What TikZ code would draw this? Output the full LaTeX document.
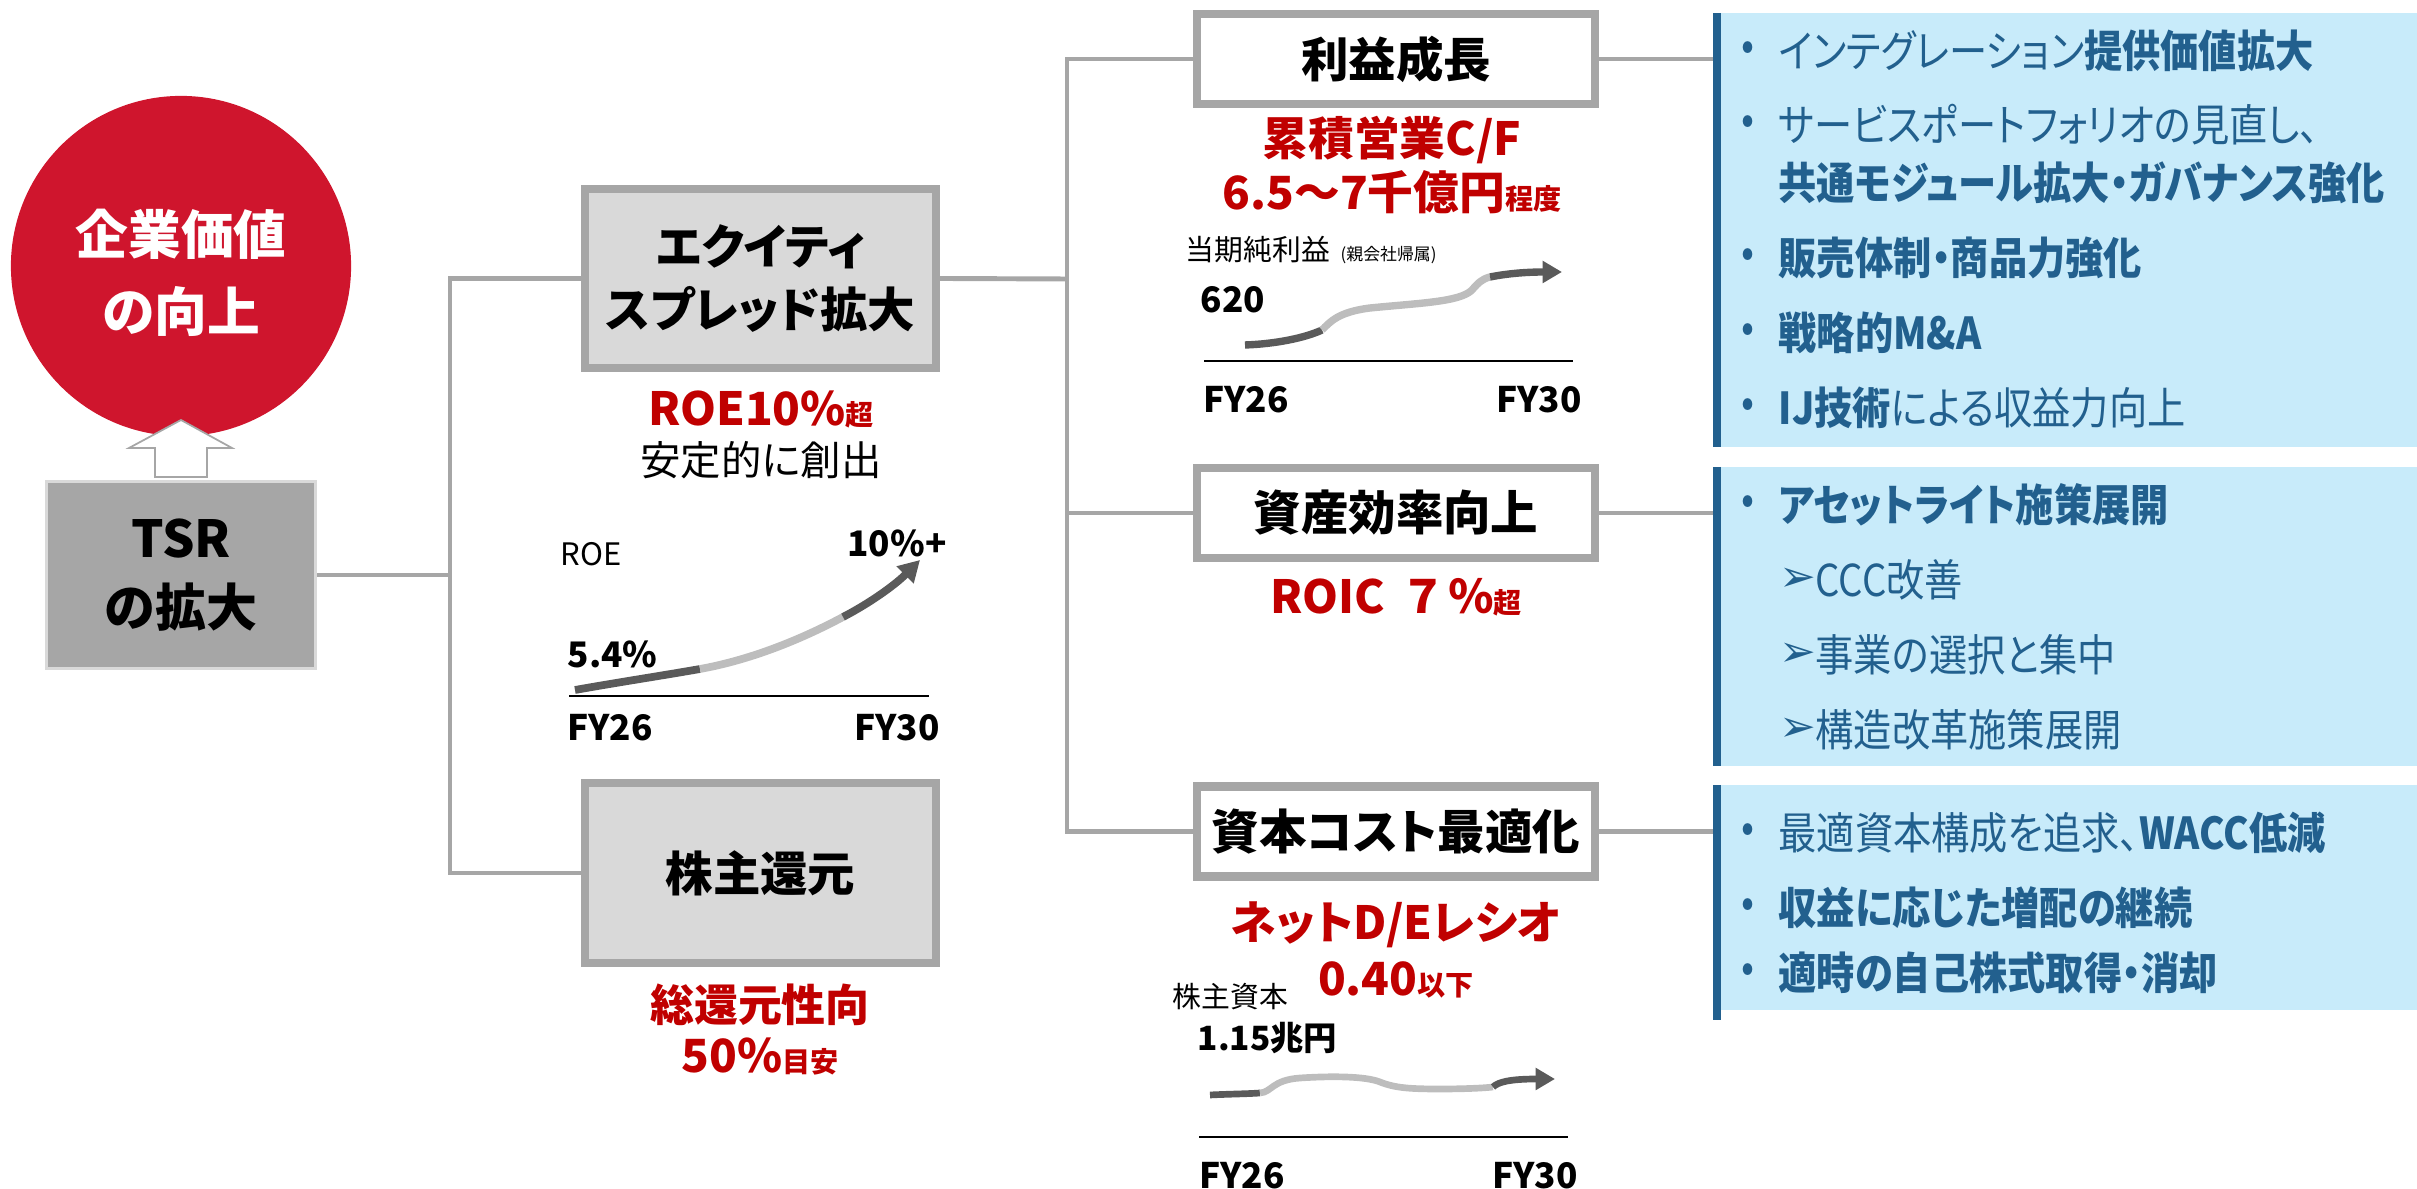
\documentclass[tikz,border=0pt]{standalone}
\usepackage{fontspec}
\setmainfont{Noto Sans CJK JP}[RawFeature=+palt]
\newfontfamily\pfont{Noto Sans CJK JP}[RawFeature=+palt,FakeStretch=0.87]
\newfontfamily\djv{DejaVu Sans}
\usetikzlibrary{arrows.meta}
\definecolor{cgray}{HTML}{A6A6A6}
\definecolor{lgray}{HTML}{D9D9D9}
\definecolor{cred}{HTML}{C00000}
\definecolor{circred}{HTML}{CF152D}
\definecolor{pfill}{HTML}{C8EBFA}
\definecolor{pblue}{HTML}{22608E}
\definecolor{dcurve}{HTML}{5A5A5A}
\definecolor{lcurve}{HTML}{BDBDBD}
\newcommand{\myfs}[2]{\fontsize{#1}{#2}\selectfont}
\begin{document}
\begin{tikzpicture}[x=0.01cm,y=-0.01cm,
 conn/.style={draw=cgray,line width=1.4pt},
 lbox/.style={draw=cgray,line width=2.3pt,fill=lgray,minimum width=3.51cm,minimum height=1.79cm,inner sep=0pt,align=center,font=\myfs{13.5}{18}\bfseries},
 rbox/.style={draw=cgray,line width=2.3pt,fill=white,minimum width=3.98cm,minimum height=0.90cm,inner sep=0pt,font=\myfs{13.5}{16}\bfseries},
 redt/.style={text=cred,inner sep=0pt,font=\myfs{13}{15}\bfseries},
 lab/.style={inner sep=0pt,anchor=west},
 fy/.style={inner sep=0pt,font=\myfs{10}{12}\bfseries},
 baseln/.style={draw=black,line width=0.6pt},
 dk/.style={draw=dcurve,line width=2.2pt},
 lt/.style={draw=lcurve,line width=2.2pt},
 panel/.style={fill=pfill,inner sep=0pt,outer sep=0pt,minimum width=7cm},
 pbar/.style={draw=pblue,line width=2.3pt},
 ptxt/.style={text=pblue,inner sep=0pt,anchor=west,font=\pfont\myfs{12.5}{14}},
 ptxtb/.style={ptxt,font=\pfont\myfs{12.5}{14}\bfseries},
 pbul/.style={text=pblue,inner sep=0pt,font=\pfont\myfs{12.5}{14}},
 parr/.style={text=pblue,inner sep=0pt,anchor=west,font=\djv\myfs{12.5}{14}},
]
\useasboundingbox (0,0) rectangle (2417,1189);

% value circle and arrow
\node[circle,fill=circred,minimum size=3.4cm,inner sep=0pt] (val) at (181,266) {};
\node[text=white,align=center,inner sep=0pt,font=\myfs{15}{22}\bfseries] (valtxt) at (181,273) {企業価値\\の向上};
\draw[draw=cgray,fill=white,line width=0.5pt] (155,477) -- (155,448) -- (129,448) -- (181,420) -- (232,448) -- (207,448) -- (207,477) -- cycle;

% TSR
\node[draw=lgray,line width=0.9pt,fill=cgray,minimum width=2.69cm,minimum height=1.87cm,inner sep=0pt,align=center,font=\myfs{14.5}{19.6}\bfseries] (tsr) at (181,575) {TSR\\の拡大};

% left boxes
\node[lbox] (eq) at (760.5,278.5) {エクイティ\\スプレッド拡大};
\node[lbox] (sh) at (760.5,873) {株主還元};

% right boxes
\node[rbox] (rg) at (1396,59) {利益成長};
\node[rbox] (ae) at (1396,513) {資産効率向上};
\node[rbox] (cc) at (1396,831.5) {資本コスト最適化};

% connectors
\coordinate (j1) at (450,575);
\coordinate (j2) at (1067,279);
\draw[conn] (tsr.east) -- (j1);
\draw[conn] (eq.west) -- (eq.west -| j1) -- (sh.west -| j1) -- (sh.west);
\draw[conn] (eq.east) -- (j2);
\draw[conn] (rg.west) -- (rg.west -| j2) -- (cc.west -| j2) -- (cc.west);
\draw[conn] (ae.west -| j2) -- (ae.west);

% red targets
\node[redt] (roe) at (761,409) {ROE10\%{\myfs{8}{10}超}};
\node[inner sep=0pt,font=\myfs{11.5}{14}] (stable) at (761,460) {安定的に創出};
\node[redt,font=\myfs{12.5}{15}\bfseries] (tot) at (760,1005) {総還元性向};
\node[redt] (fifty) at (760,1057) {50\%{\myfs{8}{10}目安}};
\node[redt] (cf1) at (1392,140) {累積営業C/F};
\node[redt] (cf2) at (1392,192) {6.5～7千億円{\myfs{8}{10}程度}};
\node[redt] (roic) at (1396,597) {ROIC\ \ ７\,％{\myfs{8}{10}超}};
\node[redt] (de1) at (1396,925) {ネットD/Eレシオ};
\node[redt] (de2) at (1396,980) {0.40{\myfs{8}{10}以下}};

% ROE chart
\node[lab,font=\myfs{8.8}{10}] (roelab) at (560,554) {ROE};
\node[inner sep=0pt,font=\myfs{10}{12}\bfseries] (roe10) at (897,543) {10\%+};
\node[lab,font=\myfs{10}{12}\bfseries] (roe54) at (567,654) {5.4\%};
\coordinate (ra) at (569,696); \coordinate (rb) at (929,696);
\draw[baseln] (ra) -- (rb);
\node[fy] (rfy26) at (610,728) {FY26};
\node[fy] (rfy30) at (897,728) {FY30};
\draw[dk] (575,690) .. controls (620,682) and (660,676) .. (700,669);
\draw[lt] (700,669) .. controls (750,660) and (800,640) .. (843,617);
\draw[dk,-{Triangle[length=6pt,width=6.5pt]}] (843,617) .. controls (870,603) and (895,585) .. (920,560);

% net income chart
\node[lab,font=\myfs{8.2}{10}] (npl) at (1185,250) {当期純利益};
\node[lab,font=\myfs{4.8}{6}] (npl2) at (1340,255) {(親会社帰属)};
\node[lab,font=\myfs{10}{12}\bfseries] (n620) at (1200,300) {620};
\coordinate (na) at (1204,361); \coordinate (nb) at (1573,361);
\draw[baseln] (na) -- (nb);
\node[fy] (nfy26) at (1246,400) {FY26};
\node[fy] (nfy30) at (1539,400) {FY30};
\draw[dk,line width=2.1pt] (1245,345) .. controls (1275,344) and (1305,338) .. (1322,330);
\draw[lt,line width=2.1pt] (1322,330) .. controls (1330,322) and (1338,312) .. (1370,308)
  .. controls (1420,303) and (1460,302) .. (1472,290)
  .. controls (1478,283) and (1482,279) .. (1490,277);
\draw[dk,line width=2.1pt,-{Triangle[length=5.5pt,width=6pt]}] (1490,277) .. controls (1510,273) and (1530,272) .. (1562,272);

% equity chart
\node[lab,font=\myfs{8.2}{10}] (eqc) at (1172,997) {株主資本};
\node[lab,font=\myfs{9.5}{12}\bfseries] (e115) at (1197,1038) {1.15兆円};
\coordinate (ea) at (1199,1137); \coordinate (eb) at (1568,1137);
\draw[baseln] (ea) -- (eb);
\node[fy] (efy26) at (1242,1176) {FY26};
\node[fy] (efy30) at (1535,1176) {FY30};
\draw[dk,line width=1.9pt] (1210,1095) .. controls (1230,1094) and (1245,1094) .. (1260,1093);
\draw[lt,line width=1.9pt] (1260,1093) .. controls (1272,1092) and (1272,1080) .. (1300,1078)
  .. controls (1330,1076) and (1365,1076) .. (1380,1082)
  .. controls (1395,1088) and (1410,1089) .. (1440,1089)
  .. controls (1465,1089) and (1485,1088) .. (1493,1087);
\draw[dk,line width=1.9pt,-{Triangle[length=5.5pt,width=6pt]}] (1493,1087) .. controls (1498,1082) and (1510,1079) .. (1555,1079);

% panels
\node[panel,minimum height=4.34cm] (p1) at (2067,230) {};
\node[panel,minimum height=2.99cm] (p2) at (2067,616.5) {};
\node[panel,minimum height=2.25cm] (p3) at (2067,897.5) {};
\draw[conn] (rg.east) -- (rg.east -| p1.west);
\draw[conn] (ae.east) -- (ae.east -| p2.west);
\draw[conn] (cc.east) -- (cc.east -| p3.west);
\draw[pbar] (p1.north west) -- (p1.south west);
\draw[pbar] (p2.north west) -- (p2.south west);
\draw[pbar] (p3.north west) -- ++(0,235);

% panel 1 text
\node[pbul] (b11) at (1748,51) {•};
\node[ptxt] (t11) at (1778,51) {インテグレーション{\bfseries 提供価値拡大}};
\node[pbul] (b12) at (1748,125) {•};
\node[ptxt] (t12) at (1778,125) {サービスポートフォリオの見直し、};
\node[ptxtb] (t12b) at (1778,183) {共通モジュール拡大・ガバナンス強化};
\node[pbul] (b13) at (1748,258) {•};
\node[ptxtb] (t13) at (1778,258) {販売体制・商品力強化};
\node[pbul] (b14) at (1748,333) {•};
\node[ptxtb] (t14) at (1778,333) {戦略的M\&A};
\node[pbul] (b15) at (1748,408) {•};
\node[ptxt] (t15) at (1778,408) {{\bfseries IJ技術}による収益力向上};

% panel 2 text
\node[pbul] (b21) at (1748,505) {•};
\node[ptxtb] (t21) at (1778,505) {アセットライト施策展開};
\node[parr] (a22) at (1779,580) {➢};
\node[ptxt] (t22) at (1815,580) {CCC改善};
\node[parr] (a23) at (1779,655) {➢};
\node[ptxt] (t23) at (1815,655) {事業の選択と集中};
\node[parr] (a24) at (1779,730) {➢};
\node[ptxt] (t24) at (1815,730) {構造改革施策展開};

% panel 3 text
\node[pbul] (b31) at (1748,833) {•};
\node[ptxt] (t31) at (1778,833) {最適資本構成を追求、{\bfseries WACC低減}};
\node[pbul] (b32) at (1748,908) {•};
\node[ptxtb] (t32) at (1778,908) {収益に応じた増配の継続};
\node[pbul] (b33) at (1748,973) {•};
\node[ptxtb] (t33) at (1778,973) {適時の自己株式取得・消却};
\end{tikzpicture}
\end{document}
